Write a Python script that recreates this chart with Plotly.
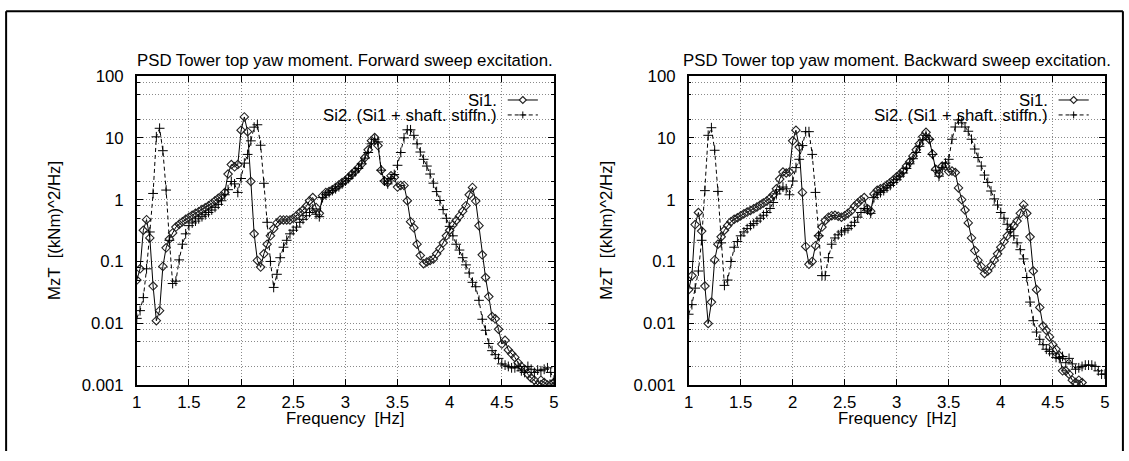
import plotly.graph_objects as go

# Figure size; the page adds an 8 px body margin and the captured page is
# reduced slightly in both directions, so layout positions below are given
# in final picture pixels and converted with the factors SX / SY.
W, H = 1129, 461
OFF = 8
SX, SY = 0.986, 0.962

# Spectral lines every 1/32 Hz from 1 to 5 Hz
freq = [n / 32 for n in range(32, 161)]

# Forward sweep, PSD of tower-top yaw moment [(kNm)^2/Hz]
fwd_si1 = [
    0.05, 0.076, 0.32, 0.475, 0.24, 0.04, 0.011, 0.016,
    0.083, 0.166, 0.23, 0.29, 0.36, 0.40, 0.44, 0.48,
    0.52, 0.56, 0.60, 0.64, 0.69, 0.74, 0.80, 0.87,
    0.96, 1.05, 1.15, 1.31, 2.6, 3.7, 3.4, 3.7,
    13.3, 21.8, 12.6, 1.97, 0.28, 0.104, 0.081, 0.133,
    0.19, 0.26, 0.34, 0.42, 0.47, 0.47, 0.47, 0.47,
    0.50, 0.55, 0.62, 0.68, 0.78, 0.96, 1.08, 0.75,
    0.60, 1.16, 1.31, 1.36, 1.45, 1.58, 1.72, 1.90,
    2.05, 2.3, 2.6, 2.9, 3.3, 3.8, 4.8, 6.4,
    9.0, 10.1, 7.5, 3.0, 2.0, 1.9, 2.44, 2.3,
    1.6, 1.7, 1.7, 0.96, 0.44, 0.35, 0.19, 0.125,
    0.092, 0.098, 0.104, 0.11, 0.133, 0.16, 0.20, 0.26,
    0.32, 0.39, 0.46, 0.54, 0.65, 0.80, 1.2, 1.58,
    0.95, 0.38, 0.128, 0.055, 0.027, 0.0128, 0.0118, 0.008,
    0.0046, 0.0053, 0.0037, 0.0032, 0.0028, 0.0023, 0.002, 0.0018,
    0.0015, 0.0013, 0.0012, 0.001, 0.0012, 0.0011, 0.001, 0.001,
    0.0011,
]
fwd_si2 = [
    0.012, 0.016, 0.026, 0.076, 0.3, 1.26, 10.4, 14.3,
    6.2, 1.43, 0.22, 0.044, 0.048, 0.106, 0.19, 0.28,
    0.38, 0.42, 0.45, 0.49, 0.53, 0.57, 0.62, 0.68,
    0.75, 0.84, 0.96, 1.2, 1.45, 1.97, 1.8, 1.31,
    2.2, 3.9, 5.4, 8.95, 14.9, 16.3, 7.6, 1.84,
    0.43, 0.1, 0.038, 0.062, 0.115, 0.17, 0.22, 0.28,
    0.32, 0.36, 0.43, 0.48, 0.55, 0.62, 0.71, 0.58,
    0.53, 1.08, 1.2, 1.3, 1.4, 1.5, 1.62, 1.8,
    2.0, 2.2, 2.5, 2.8, 3.2, 3.8, 4.7, 5.8,
    8.0, 9.5, 8.6, 3.0, 2.0, 1.8, 2.2, 2.55,
    3.6, 5.8, 10.0, 13.5, 13.5, 11.0, 8.0, 5.9,
    4.5, 3.5, 2.6, 1.85, 1.35, 0.97, 0.69, 0.5,
    0.37, 0.26, 0.19, 0.153, 0.115, 0.088, 0.065, 0.046,
    0.039, 0.0235, 0.0116, 0.0077, 0.0047, 0.0036, 0.0031, 0.0027,
    0.0022, 0.0021, 0.002, 0.0019, 0.0019, 0.002, 0.0017, 0.0016,
    0.002, 0.0018, 0.0016, 0.00175, 0.0017, 0.0018, 0.0019, 0.0016,
    0.0012,
]

# Backward sweep
bwd_si1 = [
    0.035, 0.059, 0.395, 0.62, 0.31, 0.04, 0.0099, 0.022,
    0.106, 0.19, 0.25, 0.32, 0.38, 0.44, 0.48, 0.51,
    0.55, 0.59, 0.63, 0.67, 0.71, 0.76, 0.82, 0.88,
    0.95, 1.05, 1.2, 1.5, 2.15, 2.8, 2.7, 2.8,
    8.95, 13.3, 7.1, 1.31, 0.175, 0.09, 0.1, 0.18,
    0.26, 0.36, 0.46, 0.52, 0.55, 0.56, 0.54, 0.52,
    0.55, 0.6, 0.66, 0.78, 0.88, 0.99, 1.08, 0.71,
    0.65, 1.24, 1.42, 1.5, 1.58, 1.72, 1.9, 2.1,
    2.35, 2.6, 2.94, 3.5, 4.1, 5.1, 6.4, 8.0,
    10.4, 12.3, 9.5, 5.5, 3.1, 2.6, 3.5, 3.5,
    2.85, 2.9, 2.75, 1.55, 1.0, 0.68, 0.42, 0.24,
    0.15, 0.105, 0.083, 0.064, 0.07, 0.085, 0.105, 0.133,
    0.17, 0.21, 0.26, 0.33, 0.38, 0.45, 0.6, 0.83,
    0.6, 0.25, 0.07, 0.035, 0.018, 0.009, 0.0077, 0.006,
    0.0045, 0.0038, 0.003, 0.0017, 0.0017, 0.0015, 0.0012, 0.0011,
    0.0012, 0.0011, 0.0008, 0.0007, 0.0006, 0.0006, 0.0005, 0.0005,
    0.0005,
]
bwd_si2 = [
    0.014, 0.02, 0.037, 0.07, 0.22, 1.4, 11.0, 14.6,
    6.3, 1.36, 0.2, 0.041, 0.05, 0.1, 0.17, 0.21,
    0.26, 0.3, 0.34, 0.38, 0.41, 0.45, 0.5, 0.56,
    0.62, 0.72, 0.9, 1.24, 1.45, 1.6, 1.5, 1.2,
    2.0, 3.3, 4.5, 7.5, 12.6, 12.6, 5.4, 1.31,
    0.26, 0.059, 0.059, 0.115, 0.19, 0.24, 0.27, 0.3,
    0.32, 0.34, 0.38, 0.43, 0.52, 0.62, 0.72, 0.68,
    0.6, 1.08, 1.2, 1.3, 1.4, 1.55, 1.7, 1.9,
    2.1, 2.4, 2.7, 3.2, 3.8, 4.6, 5.8, 7.3,
    9.3, 11.0, 9.5, 5.4, 3.0, 2.4, 3.3, 3.9,
    4.5, 9.5, 15.0, 19.5, 17.5, 15.0, 12.8, 9.5,
    6.6, 4.8, 3.5, 2.5, 1.9, 1.38, 1.03, 0.82,
    0.62, 0.5, 0.4, 0.33, 0.26, 0.2, 0.155, 0.11,
    0.055, 0.022, 0.011, 0.0072, 0.0055, 0.0045, 0.0038, 0.0035,
    0.0032, 0.0028, 0.0027, 0.0029, 0.0023, 0.0027, 0.0022, 0.0018,
    0.0019, 0.002, 0.0021, 0.0021, 0.0021, 0.002, 0.0017, 0.0015,
    0.0015,
]

x_ticks = [1, 1.5, 2, 2.5, 3, 3.5, 4, 4.5, 5]
x_tick_text = ["1", "1.5", "2", "2.5", "3", "3.5", "4", "4.5", "5"]
y_ticks = [0.001, 0.01, 0.1, 1, 10, 100]
y_tick_text = ["0.001", "0.01", "0.1", "1", "10", "100"]
y_minor = [0.002, 0.005, 0.008, 0.02, 0.05, 0.08, 0.2, 0.5, 0.8,
           2, 5, 8, 20, 50, 80]

titles = ["PSD Tower top yaw moment. Forward sweep excitation.",
          "PSD Tower top yaw moment. Backward sweep excitation."]
series_names = ["Si1.", "Si2. (Si1 + shaft. stiffn.)"]
x_title = "Frequency  [Hz]"
y_title = "MzT  [(kNm)^2/Hz]"

FONT = "Liberation Sans, Arial, sans-serif"
FS = 16.8
GRID = "#8a8a8a"

# plot areas in picture pixels: (left, right), shared top/bottom
panels = [(139, 554), (688, 1102)]
TOP, BOTTOM = 75, 385


def px(x):
    """picture pixel column -> paper x"""
    return (x / SX - OFF) / W


def py(y):
    """picture pixel row -> paper y"""
    return 1 - (y / SY - OFF) / H


fig = go.Figure()
for k, (s1, s2) in enumerate([(fwd_si1, fwd_si2), (bwd_si1, bwd_si2)]):
    xa = "x" if k == 0 else "x2"
    ya = "y" if k == 0 else "y2"
    fig.add_trace(go.Scatter(
        x=freq, y=s1, xaxis=xa, yaxis=ya, mode="lines+markers",
        name=series_names[0], showlegend=False,
        line=dict(color="black", width=1),
        marker=dict(symbol="diamond-open", size=6.5, color="#222",
                    line=dict(width=1.1, color="#222")),
    ))
    fig.add_trace(go.Scatter(
        x=freq, y=s2, xaxis=xa, yaxis=ya, mode="lines+markers",
        name=series_names[1], showlegend=False,
        line=dict(color="black", width=1, dash="4px,3px"),
        marker=dict(symbol="cross-thin-open", size=7, color="black",
                    line=dict(width=1, color="black")),
    ))

axis_common = dict(
    showline=True, linecolor="black", linewidth=1.5, mirror="allticks",
    ticks="inside", ticklen=6, tickwidth=1, tickcolor="black",
    showgrid=True, gridcolor=GRID, gridwidth=1, griddash="1px,2px",
    zeroline=False, tickfont=dict(family=FONT, size=FS, color="black"),
)

layout = dict(
    width=W, height=H, autosize=False,
    margin=dict(l=0, r=0, t=0, b=0),
    paper_bgcolor="white", plot_bgcolor="white",
    showlegend=False,
)
for k, (l, r) in enumerate(panels):
    sx = "" if k == 0 else "2"
    layout["xaxis" + sx] = dict(
        axis_common, domain=[px(l), px(r)], range=[1, 5],
        tickmode="array", tickvals=x_ticks, ticktext=x_tick_text,
        anchor="y" + sx, ticklabelstandoff=1,
    )
    layout["yaxis" + sx] = dict(
        axis_common, domain=[py(BOTTOM), py(TOP)], type="log", range=[-3, 2],
        tickmode="array", tickvals=y_ticks, ticktext=y_tick_text,
        anchor="x" + sx, ticklabelstandoff=8,
        minor=dict(tickmode="array", tickvals=y_minor, ticks="inside",
                   ticklen=3, tickcolor="black", showgrid=True,
                   gridcolor=GRID, gridwidth=1, griddash="1px,2px"),
    )
fig.update_layout(**layout)

annotations = []
shapes = []
txt = dict(family=FONT, size=FS, color="black")
for k, (l, r) in enumerate(panels):
    cx = (l + r) / 2
    annotations.append(dict(text=titles[k], x=px(cx), y=py(59), xref="paper",
                            yref="paper", showarrow=False, font=txt,
                            xanchor="center", yanchor="middle"))
    annotations.append(dict(text=x_title, x=px(cx), y=py(419), xref="paper",
                            yref="paper", showarrow=False, font=txt,
                            xanchor="center", yanchor="middle"))
    annotations.append(dict(text=y_title, x=px(l - 82), y=py((TOP + BOTTOM) / 2),
                            xref="paper", yref="paper", showarrow=False,
                            font=txt, textangle=-90,
                            xanchor="center", yanchor="middle"))
    # key: right-aligned labels followed by line samples
    tx = r - 55
    s0, s1_ = r - 46, r - 16
    sm = (s0 + s1_) / 2
    for j, yy in enumerate([99, 114]):
        annotations.append(dict(text=series_names[j], x=px(tx), y=py(yy + 1),
                                xref="paper", yref="paper", showarrow=False,
                                font=txt, xanchor="right", yanchor="middle"))
        shapes.append(dict(type="line", xref="paper", yref="paper",
                           x0=px(s0), x1=px(s1_), y0=py(yy), y1=py(yy),
                           line=dict(color="black", width=1,
                                     dash="solid" if j == 0 else "4px,3px")))
    d = 3.5
    shapes.append(dict(type="path", xref="paper", yref="paper",
                       path=(f"M {px(sm)},{py(99 - d)} L {px(sm + d)},{py(99)} "
                             f"L {px(sm)},{py(99 + d)} L {px(sm - d)},{py(99)} Z"),
                       fillcolor="white", line=dict(color="#222", width=1.1)))
    shapes.append(dict(type="line", xref="paper", yref="paper",
                       x0=px(sm - d), x1=px(sm + d), y0=py(114), y1=py(114),
                       line=dict(color="black", width=1)))
    shapes.append(dict(type="line", xref="paper", yref="paper",
                       x0=px(sm), x1=px(sm), y0=py(114 - d), y1=py(114 + d),
                       line=dict(color="black", width=1)))

# outer frame: top edge plus left and right sides running to the bottom
left_edge = 0.001
for x0, y0, x1, y1 in [(left_edge, py(10), px(1120), py(10)),
                       (left_edge, py(10), left_edge, 0),
                       (px(1120), py(10), px(1120), 0)]:
    shapes.append(dict(type="line", xref="paper", yref="paper",
                       x0=x0, y0=y0, x1=x1, y1=y1,
                       line=dict(color="black", width=2)))

fig.update_layout(annotations=annotations, shapes=shapes)
fig.write_html("out.html")
